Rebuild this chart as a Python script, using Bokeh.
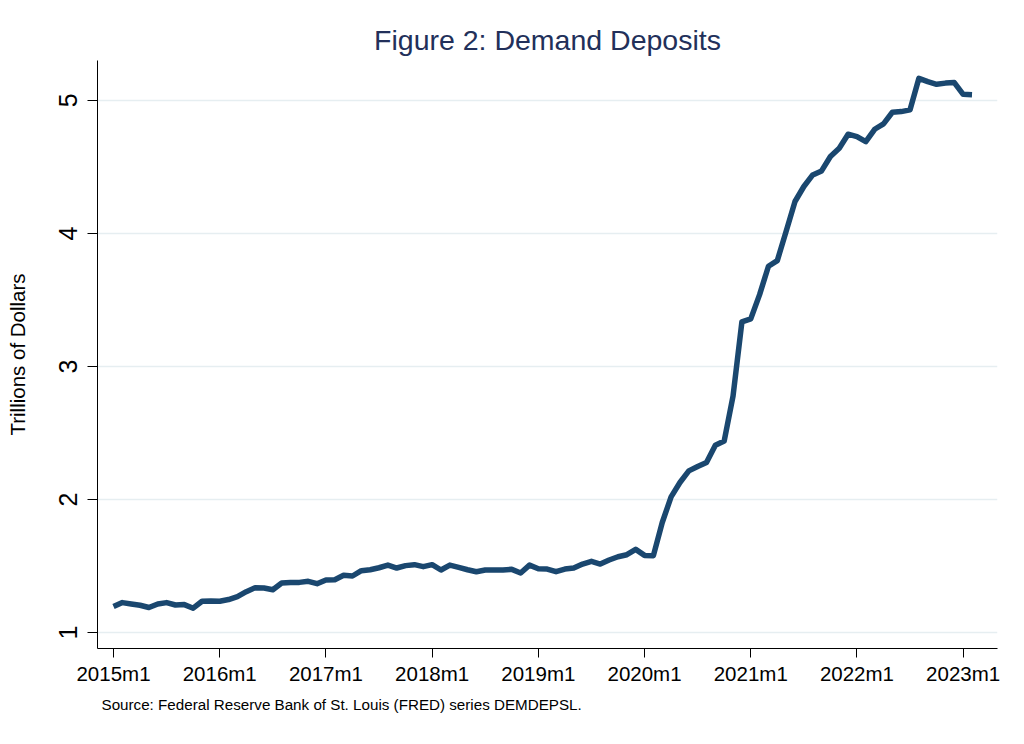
from bokeh.plotting import figure
from bokeh.models import Range1d, FixedTicker, Title
from bokeh.embed import file_html
from bokeh.resources import INLINE

# ---- data (trillions of dollars, monthly from 2015m1) ----
start_year = 2015
deposits = [
    1.195, 1.225, 1.215, 1.205, 1.188, 1.215, 1.225, 1.207, 1.210, 1.183, 1.235, 1.237,  # 2015
    1.235, 1.248, 1.270, 1.307, 1.337, 1.335, 1.322, 1.372, 1.377, 1.377, 1.385, 1.367,  # 2016
    1.395, 1.397, 1.430, 1.425, 1.465, 1.472, 1.487, 1.507, 1.485, 1.503, 1.510, 1.495,  # 2017
    1.510, 1.470, 1.507, 1.490, 1.472, 1.457, 1.470, 1.470, 1.470, 1.475, 1.448, 1.507,  # 2018
    1.480, 1.477, 1.457, 1.477, 1.485, 1.515, 1.535, 1.515, 1.545, 1.570, 1.585, 1.625,  # 2019
    1.580, 1.578, 1.827, 2.020, 2.128, 2.215, 2.248, 2.278, 2.408, 2.440, 2.778, 3.335,  # 2020
    3.358, 3.540, 3.753, 3.796, 4.016, 4.240, 4.353, 4.440, 4.470, 4.578, 4.640, 4.746,  # 2021
    4.728, 4.690, 4.783, 4.824, 4.911, 4.916, 4.929, 5.166, 5.141, 5.121, 5.130, 5.134,  # 2022
    5.046, 5.043,                                                                        # 2023
]
months = list(range(len(deposits)))  # months since 2015m1

x_tick_pos = [0, 12, 24, 36, 48, 60, 72, 84, 96]
x_tick_labels = ["2015m1", "2016m1", "2017m1", "2018m1", "2019m1",
                 "2020m1", "2021m1", "2022m1", "2023m1"]
y_ticks = [1, 2, 3, 4, 5]

title_text = "Figure 2: Demand Deposits"
y_title = "Trillions of Dollars"
note_text = "Source: Federal Reserve Bank of St. Louis (FRED) series DEMDEPSL."

NAVY = "#1a476f"
TITLE_NAVY = "#22305a"
FONT = "Liberation Sans"

p = figure(width=1008, height=728, output_backend="svg", toolbar_location=None,
           x_range=Range1d(-1.81, 99.88), y_range=Range1d(0.88, 5.30),
           min_border_left=97, min_border_right=11, min_border_top=60,
           min_border_bottom=80, background_fill_color="white",
           border_fill_color="white")
p.outline_line_color = None

p.title.text = title_text
p.title.align = "center"
p.title.text_font = FONT
p.title.text_font_size = "28.5px"
p.title.text_font_style = "normal"
p.title.text_color = TITLE_NAVY
p.title.standoff = 9

p.line(months, deposits, line_width=5.5, line_color=NAVY, line_join="round")

# y axis
yax = p.yaxis[0]
yax.ticker = FixedTicker(ticks=y_ticks)
yax.major_label_orientation = "vertical"
yax.major_tick_out = 10
yax.major_tick_in = 0
yax.minor_tick_out = 0
yax.minor_tick_in = 0
yax.axis_line_color = "black"
yax.major_tick_line_color = "black"
yax.major_label_text_font = FONT
yax.major_label_text_font_size = "25px"
yax.major_label_text_color = "black"
yax.major_label_standoff = 10
yax.axis_label = y_title
yax.axis_label_text_font = FONT
yax.axis_label_text_font_size = "20.5px"
yax.axis_label_text_font_style = "normal"
yax.axis_label_text_color = "black"
yax.axis_label_standoff = 28

# x axis
xax = p.xaxis[0]
xax.ticker = FixedTicker(ticks=x_tick_pos)
xax.major_label_overrides = {pos: lab for pos, lab in zip(x_tick_pos, x_tick_labels)}
xax.major_tick_out = 9
xax.major_tick_in = 0
xax.minor_tick_out = 0
xax.minor_tick_in = 0
xax.axis_line_color = "black"
xax.major_tick_line_color = "black"
xax.major_label_text_font = FONT
xax.major_label_text_font_size = "20.5px"
xax.major_label_text_color = "black"
xax.major_label_standoff = 4

p.xgrid.visible = False
p.ygrid.grid_line_color = "#e6eef1"
p.ygrid.grid_line_width = 1.5

note = Title(text=note_text, align="left", text_font=FONT, text_font_size="15.2px",
             text_font_style="normal", text_color="black", offset=4, standoff=13)
p.add_layout(note, "below")

open("out.html", "w").write(file_html(p, INLINE))
